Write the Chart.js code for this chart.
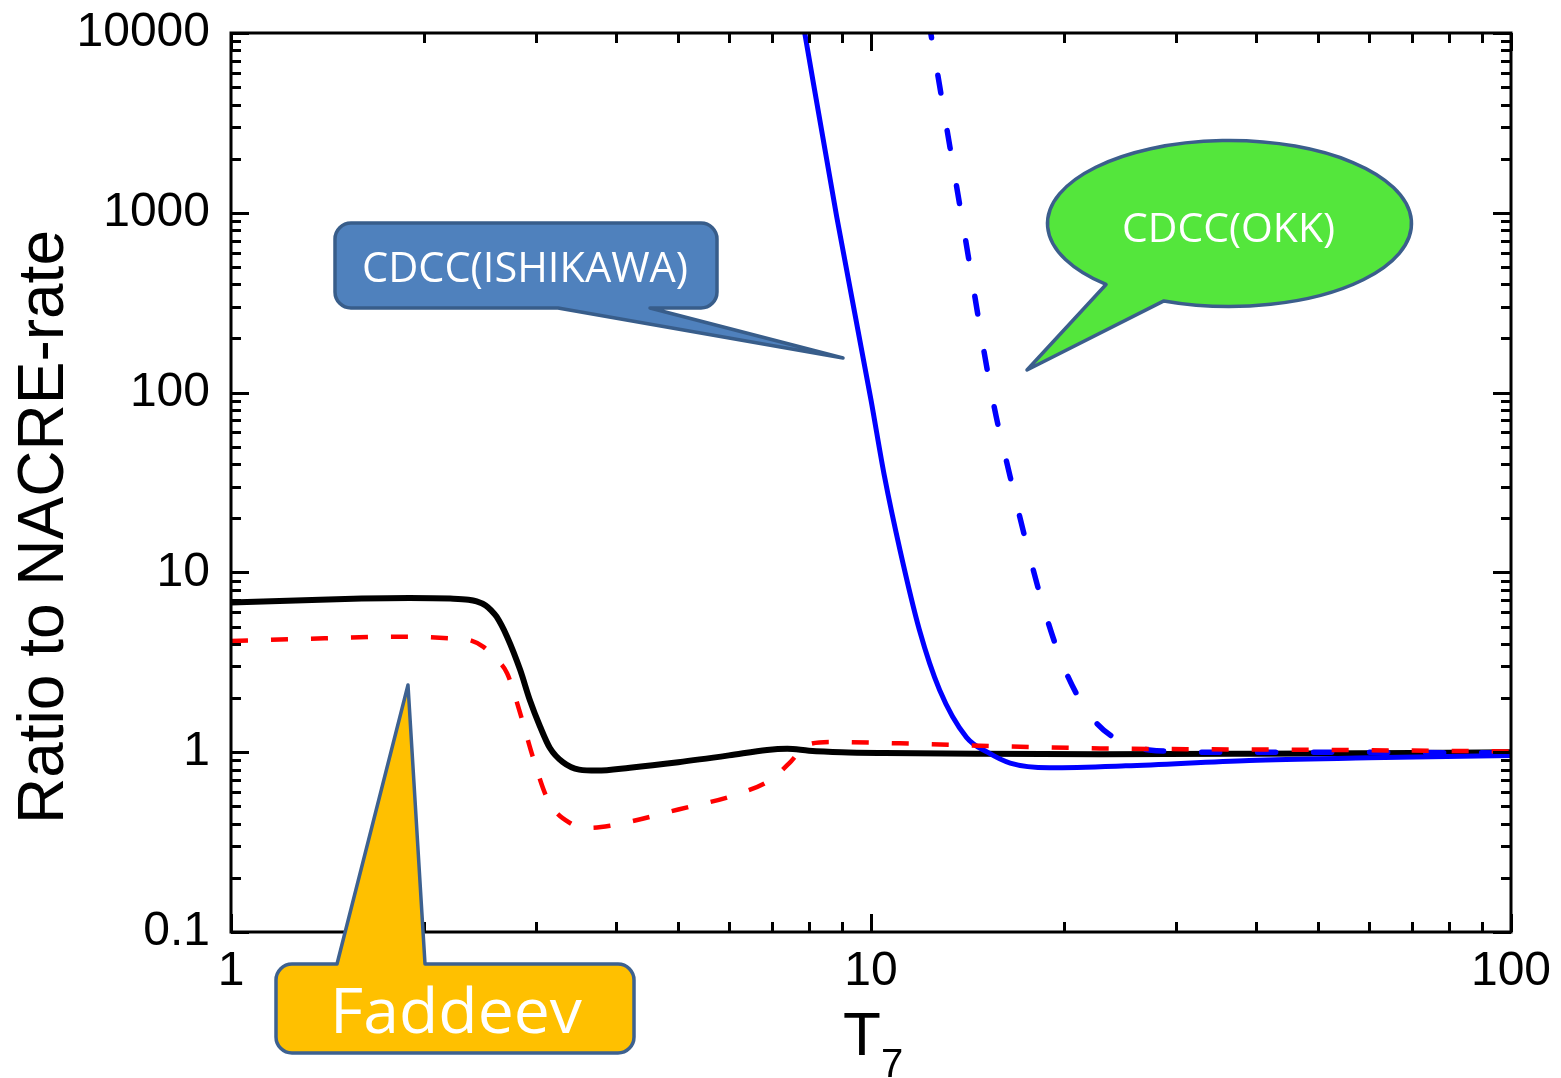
<!DOCTYPE html>
<html>
<head>
<meta charset="utf-8">
<title>Ratio to NACRE-rate</title>
<script src="https://cdn.jsdelivr.net/npm/chart.js@4.4.1/dist/chart.umd.min.js"></script>
<style>
  html, body { margin: 0; padding: 0; background: #fff; }
  #canvas { display: block; }
</style>
</head>
<body>
<canvas id="canvas" width="1561" height="1078"></canvas>
<script>
// T7 grid and ratio values for each calculation
const faddeevT = [1, 1.3, 1.6, 1.9, 2.2, 2.35, 2.42, 2.5, 2.55, 2.6, 2.7, 2.83, 2.93, 3.04, 3.15, 3.3, 3.5, 3.73, 4.2, 5.0, 6.0, 6.88, 7.4, 8.0, 9.0, 10.5, 15, 22.8, 40, 70, 100];
const faddeevRatio = [6.8, 7.0, 7.15, 7.2, 7.15, 7.05, 6.9, 6.55, 6.15, 5.67, 4.39, 2.87, 1.95, 1.39, 1.055, 0.88, 0.80, 0.79, 0.82, 0.88, 0.96, 1.03, 1.045, 1.02, 1.0, 0.99, 0.98, 0.975, 0.98, 0.99, 1.0];

const faddeevAltT = [1, 1.4, 1.82, 2.2, 2.36, 2.48, 2.57, 2.7, 2.83, 2.96, 3.13, 3.4, 3.64, 3.91, 5.0, 6.24, 7.0, 7.5, 7.94, 8.72, 11.1, 15.9, 22.8, 50, 100];
const faddeevAltRatio = [4.15, 4.3, 4.39, 4.3, 4.2, 3.85, 3.4, 2.75, 1.65, 0.95, 0.54, 0.40, 0.38, 0.39, 0.48, 0.59, 0.71, 0.89, 1.1, 1.14, 1.12, 1.08, 1.05, 1.03, 1.01];

const ishikawaT = [7.8, 8.84, 10, 10.5, 11.1, 11.9, 12.8, 14.1, 15.2, 16.5, 19.0, 25, 39, 60, 100];
const ishikawaRatio = [12300, 950, 91, 34, 13.3, 4.8, 2.22, 1.21, 1.0, 0.87, 0.82, 0.84, 0.9, 0.93, 0.96];

const okkT = [12.3, 13.86, 15.5, 16.5, 17.6, 18.8, 20.2, 22.1, 24.2, 27.2, 35, 50, 100];
const okkRatio = [11800, 950, 91, 34, 13.3, 5.65, 2.75, 1.57, 1.18, 1.03, 1.0, 1.0, 0.99];

const xLimits = [1, 100];
const yLimits = [0.1, 10000];

const toPoints = (xs, ys) => xs.map((x, i) => ({x, y: ys[i]}));
const isDecade = v => Math.abs(Math.log10(v) - Math.round(Math.log10(v))) < 1e-6;
const axisFont = '"Liberation Sans", Arial, sans-serif';
const boxFont = '"Open Sans", "Noto Sans", sans-serif';

// frame with inward major/minor ticks on all four sides
const frameTicks = {
  id: 'frameTicks',
  afterDatasetsDraw(chart) {
    const {ctx, chartArea: a, scales: {x, y}} = chart;
    ctx.save();
    ctx.strokeStyle = '#000';
    ctx.lineWidth = 3;
    const drawTicks = (scale, horizontal) => {
      const lo = Math.round(Math.log10(scale.min));
      const hi = Math.round(Math.log10(scale.max));
      for (let e = lo; e <= hi; e++) {
        for (let m = 1; m <= 9; m++) {
          const v = m * Math.pow(10, e);
          if (v > scale.max * 1.0001) break;
          const len = m === 1 ? 18 : 10;
          const p = Math.round(scale.getPixelForValue(v)) + 0.5;
          ctx.beginPath();
          if (horizontal) {
            ctx.moveTo(p, a.bottom); ctx.lineTo(p, a.bottom - len);
            ctx.moveTo(p, a.top); ctx.lineTo(p, a.top + len);
          } else {
            ctx.moveTo(a.left, p); ctx.lineTo(a.left + len, p);
            ctx.moveTo(a.right, p); ctx.lineTo(a.right - len, p);
          }
          ctx.stroke();
        }
      }
    };
    drawTicks(x, true);
    drawTicks(y, false);
    ctx.strokeRect(a.left, a.top, a.width, a.height);
    ctx.restore();
  },
  afterDraw(chart) {
    const {ctx} = chart;
    ctx.save();
    ctx.fillStyle = '#000';
    ctx.textBaseline = 'alphabetic';
    // y axis title, rotated
    ctx.save();
    ctx.translate(63, 527);
    ctx.rotate(-Math.PI / 2);
    ctx.textAlign = 'center';
    ctx.font = `64px ${axisFont}`;
    ctx.fillText('Ratio to NACRE-rate', 0, 0);
    ctx.restore();
    // x axis title: T with subscript 7
    ctx.textAlign = 'left';
    ctx.font = `62px ${axisFont}`;
    ctx.fillText('T', 843, 1055);
    ctx.font = `40px ${axisFont}`;
    ctx.fillText('7', 881, 1077);
    ctx.restore();
    drawCallouts(ctx);
  }
};

function fitText(ctx, text, cx, baseline, size, width) {
  ctx.save();
  ctx.font = `${size}px ${boxFont}`;
  const w = ctx.measureText(text).width;
  ctx.translate(cx, baseline);
  ctx.scale(width / w, 1);
  ctx.fillStyle = '#fff';
  ctx.textAlign = 'center';
  ctx.textBaseline = 'alphabetic';
  ctx.fillText(text, 0, 0);
  ctx.restore();
}

function roundedBox(ctx, l, t, r, b, rad, pointer, edge) {
  ctx.beginPath();
  ctx.moveTo(l + rad, t);
  if (edge === 'top') {
    ctx.lineTo(pointer[0], t);
    ctx.lineTo(pointer[2], pointer[3]);
    ctx.lineTo(pointer[1], t);
  }
  ctx.lineTo(r - rad, t);
  ctx.arcTo(r, t, r, t + rad, rad);
  ctx.lineTo(r, b - rad);
  ctx.arcTo(r, b, r - rad, b, rad);
  if (edge === 'bottom') {
    ctx.lineTo(pointer[1], b);
    ctx.lineTo(pointer[2], pointer[3]);
    ctx.lineTo(pointer[0], b);
  }
  ctx.lineTo(l + rad, b);
  ctx.arcTo(l, b, l, b - rad, rad);
  ctx.lineTo(l, t + rad);
  ctx.arcTo(l, t, l + rad, t, rad);
  ctx.closePath();
}

function drawCallouts(ctx) {
  ctx.save();
  ctx.lineJoin = 'round';

  // CDCC(ISHIKAWA) box pointing at the solid blue curve
  roundedBox(ctx, 335, 223, 717, 308, 16, [558, 650, 843, 358], 'bottom');
  ctx.fillStyle = '#4f81bd';
  ctx.fill();
  ctx.strokeStyle = '#385d8a';
  ctx.lineWidth = 3.5;
  ctx.stroke();
  fitText(ctx, 'CDCC(ISHIKAWA)', 525, 282, 42, 326);

  // CDCC(OKK) speech bubble pointing at the dashed blue curve
  const cx = 1229.5, cy = 223.5, rx = 182, ry = 83;
  const angA = Math.atan2((285 - cy) / ry, (1105 - cx) / rx);
  const angB = Math.atan2((302 - cy) / ry, (1163 - cx) / rx);
  ctx.beginPath();
  ctx.ellipse(cx, cy, rx, ry, 0, angA, angB + Math.PI * 2);
  ctx.lineTo(1027, 370);
  ctx.closePath();
  ctx.fillStyle = '#54e63c';
  ctx.fill();
  ctx.strokeStyle = '#3b5e8c';
  ctx.lineWidth = 3.5;
  ctx.stroke();
  fitText(ctx, 'CDCC(OKK)', 1228.5, 242, 40, 213);

  // Faddeev box pointing up at the black/red curves
  roundedBox(ctx, 276, 964, 634, 1053, 16, [337, 425, 408, 685], 'top');
  ctx.fillStyle = '#ffc000';
  ctx.fill();
  ctx.strokeStyle = '#3d6190';
  ctx.lineWidth = 3.5;
  ctx.stroke();
  fitText(ctx, 'Faddeev', 456, 1033, 63, 252);

  ctx.restore();
}

const lineDefaults = {
  pointRadius: 0,
  fill: false,
  clip: 0,
  cubicInterpolationMode: 'monotone',
  borderCapStyle: 'round',
  borderJoinStyle: 'round'
};

// keep the plot box fixed: no extra room for half-height end labels
const noEdgePadding = scale => {
  scale.paddingTop = 0;
  scale.paddingBottom = 0;
  scale.paddingLeft = 0;
  scale.paddingRight = 0;
};

new Chart(document.getElementById('canvas'), {
  type: 'line',
  data: {
    datasets: [
      {...lineDefaults, label: 'Faddeev (alt)', data: toPoints(faddeevAltT, faddeevAltRatio),
        borderColor: '#ff0000', borderWidth: 4.5, borderDash: [17, 23], borderCapStyle: 'butt'},
      {...lineDefaults, label: 'CDCC(ISHIKAWA)', data: toPoints(ishikawaT, ishikawaRatio),
        borderColor: '#0000ff', borderWidth: 5},
      {...lineDefaults, label: 'CDCC(OKK)', data: toPoints(okkT, okkRatio),
        borderColor: '#0000ff', borderWidth: 5.5, borderDash: [18, 38]},
      {...lineDefaults, label: 'Faddeev', data: toPoints(faddeevT, faddeevRatio),
        borderColor: '#000000', borderWidth: 6}
    ]
  },
  options: {
    responsive: false,
    animation: false,
    events: [],
    layout: {padding: {top: 33, right: 50, left: 0, bottom: 0}},
    plugins: {legend: {display: false}, tooltip: {enabled: false}},
    scales: {
      x: {
        type: 'logarithmic',
        min: xLimits[0],
        max: xLimits[1],
        grid: {display: false, drawTicks: false},
        border: {display: false},
        afterBuildTicks: scale => { scale.ticks = scale.ticks.filter(t => isDecade(t.value)); },
        afterFit: scale => { scale.height = 146; noEdgePadding(scale); },
        ticks: {
          autoSkip: false,
          maxRotation: 0,
          padding: 11,
          color: '#000',
          font: {family: axisFont, size: 48},
          callback: v => String(v)
        }
      },
      y: {
        type: 'logarithmic',
        min: yLimits[0],
        max: yLimits[1],
        grid: {display: false, drawTicks: false},
        border: {display: false},
        afterBuildTicks: scale => { scale.ticks = scale.ticks.filter(t => isDecade(t.value)); },
        afterFit: scale => { scale.width = 231; noEdgePadding(scale); },
        ticks: {
          autoSkip: false,
          padding: 21,
          color: '#000',
          font: {family: axisFont, size: 48},
          callback: v => String(v)
        }
      }
    }
  },
  plugins: [frameTicks]
});
</script>
</body>
</html>
